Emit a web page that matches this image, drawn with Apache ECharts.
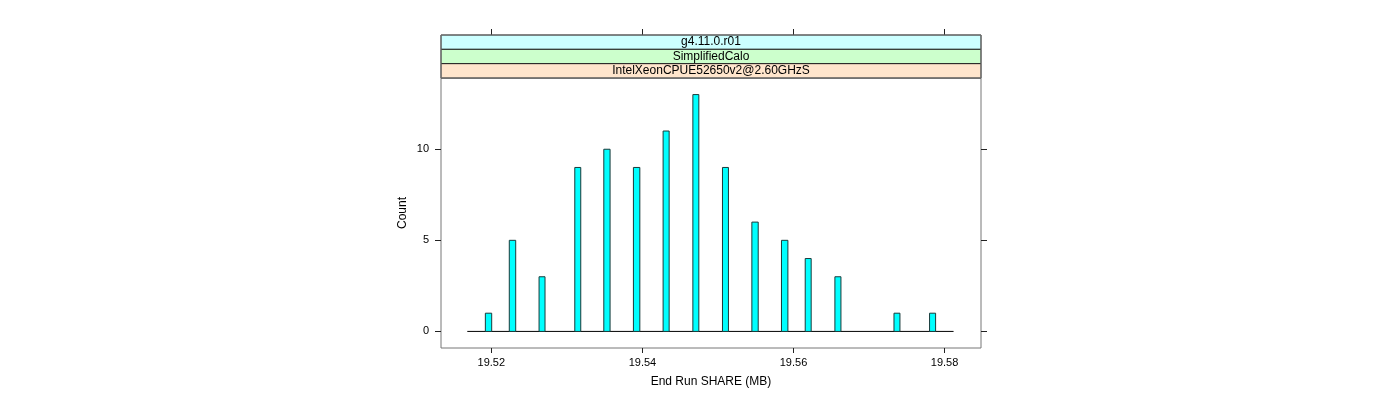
<!DOCTYPE html>
<html>
<head>
<meta charset="utf-8">
<script src="https://cdn.jsdelivr.net/npm/echarts@6/dist/echarts.min.js"></script>
<style>
html,body{margin:0;padding:0;background:#fff;}
#chart{width:1400px;height:400px;}
</style>
</head>
<body>
<div id="chart"></div>
<script>
// Histogram bins: left edge, right edge (MB) and counts
const binStart = [19.51921, 19.52238, 19.52632, 19.53105, 19.53489, 19.53881, 19.54274, 19.54668, 19.55060, 19.55449, 19.55841, 19.56155, 19.56548, 19.57330, 19.57801];
const binEnd   = [19.52005, 19.52323, 19.52711, 19.53184, 19.53572, 19.53966, 19.54354, 19.54747, 19.55139, 19.55533, 19.55926, 19.56234, 19.56628, 19.57409, 19.57881];
const counts   = [1, 5, 3, 9, 10, 9, 11, 13, 9, 6, 5, 4, 3, 1, 1];
// Full histogram range (empty bins drawn as baseline)
const histRange = [19.51682, 19.58119];
// Axis ranges and ticks
const xRange = [19.51334, 19.58482];
const yRange = [-0.91, 13.91];
const xTicks = [19.52, 19.54, 19.56, 19.58];
const yTicks = [0, 5, 10];
// Strip labels (top to bottom)
const strips = ['g4.11.0.r01', 'SimplifiedCalo', 'IntelXeonCPUE52650v2@2.60GHzS'];
const stripColors = ['#CCFFFF', '#CCFFCC', '#FFE5CC'];

const FONT = 'Liberation Sans, Arial, Helvetica, sans-serif';
const chart = echarts.init(document.getElementById('chart'), null, {renderer: 'canvas'});

const G = {left: 441, right: 419, top: 78, height: 270};
const panelW = 1400 - G.left - G.right;
const stripTop = 35, stripH = (G.top - stripTop) / strips.length;

const graphics = [];
strips.forEach((s, i) => {
  graphics.push({
    type: 'rect', z: 10,
    shape: {x: G.left, y: stripTop + i * stripH, width: panelW, height: stripH},
    style: {fill: stripColors[i], stroke: '#222', lineWidth: 1}
  });
  graphics.push({
    type: 'text', z: 11,
    x: G.left + panelW / 2, y: stripTop + i * stripH + stripH / 2,
    style: {text: s, fill: '#000', font: '12px ' + FONT, align: 'center', verticalAlign: 'middle'}
  });
});
// gray outer frame of the strip block, like the panel border
graphics.push({
  type: 'rect', z: 12, silent: true,
  shape: {x: G.left, y: stripTop, width: panelW, height: G.top - stripTop},
  style: {fill: 'none', stroke: '#777', lineWidth: 1}
});

const barData = binStart.map((s, i) => [s, binEnd[i], counts[i]]);

chart.setOption({
  animation: false,
  backgroundColor: '#fff',
  grid: {left: G.left, right: G.right, top: G.top, height: G.height, show: true, borderColor: '#777', borderWidth: 1, containLabel: false},
  xAxis: [{
    type: 'value', min: xRange[0], max: xRange[1], position: 'bottom',
    name: 'End Run SHARE (MB)', nameLocation: 'middle', nameGap: 28,
    nameTextStyle: {color: '#000', fontSize: 12, fontFamily: FONT},
    axisLine: {show: false, onZero: false}, splitLine: {show: false},
    axisTick: {show: true, inside: false, length: 5, customValues: xTicks, lineStyle: {color: '#222'}},
    axisLabel: {show: true, customValues: xTicks, margin: 9, color: '#000', fontSize: 11, fontFamily: FONT, formatter: v => v.toFixed(2)}
  }, {
    type: 'value', min: xRange[0], max: xRange[1], position: 'top', offset: G.top - stripTop,
    axisLine: {show: false, onZero: false}, splitLine: {show: false},
    axisTick: {show: true, inside: false, length: 6, customValues: xTicks, lineStyle: {color: '#222'}},
    axisLabel: {show: false}
  }],
  yAxis: [{
    type: 'value', min: yRange[0], max: yRange[1], position: 'left',
    name: 'Count', nameLocation: 'middle', nameGap: 32, nameRotate: 90,
    nameTextStyle: {color: '#000', fontSize: 12, fontFamily: FONT},
    axisLine: {show: false, onZero: false}, splitLine: {show: false},
    axisTick: {show: true, inside: false, length: 6, customValues: yTicks, lineStyle: {color: '#222'}},
    axisLabel: {show: true, customValues: yTicks, margin: 12, color: '#000', fontSize: 11, fontFamily: FONT}
  }, {
    type: 'value', min: yRange[0], max: yRange[1], position: 'right',
    axisLine: {show: false, onZero: false}, splitLine: {show: false},
    axisTick: {show: true, inside: false, length: 6, customValues: yTicks, lineStyle: {color: '#222'}},
    axisLabel: {show: false}
  }],
  series: [{
    type: 'line', xAxisIndex: 0, yAxisIndex: 0,
    data: [[histRange[0], 0], [histRange[1], 0]],
    symbol: 'none', lineStyle: {color: '#000', width: 1}, z: 1, silent: true
  }, {
    type: 'custom', xAxisIndex: 0, yAxisIndex: 0, z: 2,
    data: barData,
    encode: {x: [0, 1], y: 2},
    renderItem: function (params, api) {
      const p0 = api.coord([api.value(0), api.value(2)]);
      const p1 = api.coord([api.value(1), 0]);
      return {
        type: 'rect',
        shape: {x: p0[0], y: p0[1], width: p1[0] - p0[0], height: p1[1] - p0[1]},
        style: {fill: '#00FFFF', stroke: '#1a3a3a', lineWidth: 1}
      };
    }
  }],
  graphic: graphics
});
</script>
</body>
</html>
